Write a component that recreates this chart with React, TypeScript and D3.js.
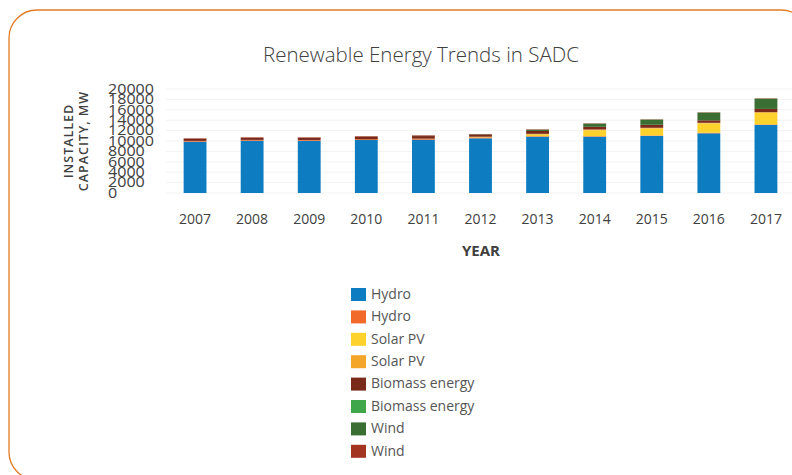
import React from "react";
import * as d3 from "d3";

const years = ["2007", "2008", "2009", "2010", "2011", "2012", "2013", "2014", "2015", "2016", "2017"];
const hydro = [9870, 10060, 10050, 10190, 10250, 10520, 10830, 10830, 10960, 11480, 13080];
const hydro2 = [150, 150, 150, 150, 150, 150, 100, 100, 100, 100, 100];
const solar = [0, 0, 0, 0, 0, 50, 300, 1150, 1350, 1800, 2250];
const solar2 = [0, 0, 0, 0, 50, 100, 150, 130, 130, 120, 120];
const biomass = [400, 400, 400, 500, 500, 450, 550, 520, 580, 480, 620];
const biomass2 = [0, 0, 0, 0, 0, 0, 0, 0, 0, 0, 0];
const wind = [0, 0, 0, 0, 50, 50, 250, 620, 1000, 1490, 1990];
const wind2 = [100, 100, 100, 100, 100, 30, 70, 50, 50, 50, 50];

const seriesNames = ["Hydro", "Hydro", "Solar PV", "Solar PV", "Biomass energy", "Biomass energy", "Wind", "Wind"];
const seriesValues = [hydro, hydro2, solar, solar2, biomass, biomass2, wind, wind2];
const seriesColors = ["#0E7CC1", "#F26A2A", "#FDD22C", "#F4A62A", "#7A2A1A", "#3FA64A", "#3B6E32", "#A33420"];
const yTicks = [0, 2000, 4000, 6000, 8000, 10000, 12000, 14000, 16000, 18000, 20000];

const title = "Renewable Energy Trends in SADC";
const xTitle = "YEAR";
const yTitle1 = "INSTALLED";
const yTitle2 = "CAPACITY, MW";

export default function App() {
  const keys = seriesNames.map((_, i) => "s" + i);
  const rows = years.map((y, j) => {
    const r: any = { year: y };
    keys.forEach((k, i) => (r[k] = seriesValues[i][j]));
    return r;
  });
  const stacked = d3.stack().keys(keys)(rows);

  const x = d3.scaleBand().domain(years).range([166.5, 794.5]).paddingInner(0.6).paddingOuter(0.3);
  const y = d3.scaleLinear().domain([0, 20000]).range([193, 89]);

  const font = "'Open Sans', 'DejaVu Sans', sans-serif";
  const textColor = "#404040";

  return (
    <svg width={792} height={475} style={{ position: "absolute", left: 0, top: 0, background: "#fff" }}>
      <rect x={9} y={10} width={800} height={470} rx={28} ry={28} fill="#fff" stroke="#E27B26" strokeWidth={1.3} />
      <text x={421} y={62} textAnchor="middle" fontFamily={font} fontSize={20.5} fill={textColor} fontWeight={300}>
        {title}
      </text>
      {yTicks.map((t) => (
        <line key={"g" + t} x1={166} x2={792} y1={y(t)} y2={y(t)} stroke="#f2f2f2" strokeWidth={1} />
      ))}
      {stacked.map((s, i) => (
        <g key={s.key} fill={seriesColors[i]}>
          {s.map((d, j) => {
            const h = y(d[0]) - y(d[1]);
            if (h <= 0) return null;
            return <rect key={j} x={x(years[j])} y={y(d[1])} width={x.bandwidth()} height={h} />;
          })}
        </g>
      ))}
      {yTicks.map((t) => (
        <text
          key={"t" + t}
          transform={`translate(108, ${y(t) + 1}) scale(1.15, 1)`}
          fontFamily={font}
          fontSize={14}
          fill={textColor}
          dominantBaseline="middle"
        >
          {t}
        </text>
      ))}
      {years.map((yr) => (
        <text
          key={"x" + yr}
          x={(x(yr) as number) + x.bandwidth() / 2}
          y={224}
          textAnchor="middle"
          fontFamily={font}
          fontSize={14}
          fill={textColor}
        >
          {yr}
        </text>
      ))}
      <text x={481} y={256} textAnchor="middle" fontFamily={font} fontSize={15} fontWeight={700} fill={textColor}>
        {xTitle}
      </text>
      <text
        transform="translate(70, 141) rotate(-90)"
        textAnchor="middle"
        dominantBaseline="middle"
        fontFamily={font}
        fontSize={12.5}
        fontWeight={600}
        letterSpacing={1}
        fill={textColor}
      >
        {yTitle1}
      </text>
      <text
        transform="translate(85, 141) rotate(-90)"
        textAnchor="middle"
        dominantBaseline="middle"
        fontFamily={font}
        fontSize={12.5}
        fontWeight={600}
        letterSpacing={1}
        fill={textColor}
      >
        {yTitle2}
      </text>
      {seriesNames.map((n, i) => (
        <g key={"l" + i} transform={`translate(351, ${288 + i * 22.4})`}>
          <rect x={0} y={0} width={15} height={13} fill={seriesColors[i]} />
          <text x={20} y={7} dominantBaseline="middle" fontFamily={font} fontSize={14} fill="#555">
            {n}
          </text>
        </g>
      ))}
    </svg>
  );
}
